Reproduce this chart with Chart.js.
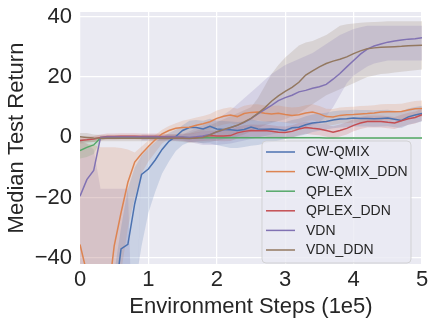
<!DOCTYPE html>
<html>
<head>
<meta charset="utf-8">
<script src="https://cdn.jsdelivr.net/npm/chart.js@4.4.1/dist/chart.umd.min.js"></script>
<style>
html,body{margin:0;padding:0;background:#ffffff;}
#wrap{width:428px;height:318px;}
</style>
</head>
<body>
<div id="wrap"><canvas id="c" width="428" height="318"></canvas></div>
<script>
// ---- data (x in units of 1e5 environment steps) ----
const steps = [0,0.1,0.2,0.3,0.4,0.5,0.6,0.7,0.8,0.9,1,1.1,1.2,1.3,1.4,1.5,1.6,1.7,1.8,1.9,2,2.1,2.2,2.3,2.4,2.5,2.6,2.7,2.8,2.9,3,3.1,3.2,3.3,3.4,3.5,3.6,3.7,3.8,3.9,4,4.1,4.2,4.3,4.4,4.5,4.6,4.7,4.8,4.9,5];
const seriesNames = ["CW-QMIX","CW-QMIX_DDN","QPLEX","QPLEX_DDN","VDN","VDN_DDN"];
const xTicks = [0,1,2,3,4,5];
const yTicks = [-40,-20,0,20,40];

const cwQmix = [-70,-70,-68,-65,-62,-55,-37,-35.5,-22,-12.3,-10.5,-7.5,-4,-1.3,0.3,2.3,3.3,3.3,2.8,3.7,2.8,2.6,2.5,2.3,2.6,3.4,2.8,2.7,2.8,2.6,2.3,3.2,3.4,4.2,4.8,5.0,5.3,5.8,6.1,6.2,6.4,6.3,6.3,6.2,6.3,6.4,6.0,5.6,6.8,7.4,7.9];
const cwQmixLo = [-90,-90,-90,-90,-90,-90,-90,-90,-50,-36,-25,-18,-12,-8,-4.5,-2.5,-1.5,-1.5,-2,-2,-2.5,-3,-3.5,-3.5,-3.2,-2.8,-2.5,-2,-1.5,-1,-0.5,0,0.5,1,1.8,2.2,2.6,3,3.3,3.4,3.6,3.6,3.6,3.5,3.6,3.7,3.4,3.1,4.2,4.8,5.3];
const cwQmixHi = [-60,-60,-60,-60,-60,-45,-30,-17,-10,-6,-3.5,-1.5,0,1.5,2.5,4,5.5,5.8,5.5,6.2,5.5,5.4,5.3,5.1,5.3,6,5.4,5.3,5.4,5.2,5,5.8,6.2,7,7.6,7.9,8.2,8.7,8.9,9,9.2,9.1,9.1,9,9.1,9.2,8.8,8.5,9.6,10.1,10.5];

const cwQmixDdn = [-35.5,-45,-60,-65,-55,-36,-25,-14.9,-8.2,-5.4,-3,-0.8,1.2,2.3,3.0,3.3,3.4,4.0,4.5,5.2,6.3,7.0,7.4,6.9,7.9,8.3,8.4,8.0,7.8,8.0,7.6,7.3,7.5,8.1,8.4,7.8,6.9,6.8,7.3,7.5,7.6,7.8,7.9,8.1,8.4,8.5,8.5,8.6,9.1,9.5,9.6];
const cwQmixDdnLo = [-90,-90,-90,-90,-90,-90,-45,-30,-20,-12,-8,-5,-2,-0.5,0.5,1,1,1.5,2,2.6,3.6,4.3,4.7,4.2,5.2,5.6,5.7,5.3,5.1,5.3,4.9,4.6,4.8,5.4,5.7,5.1,4.2,4.1,4.6,4.8,4.9,5.1,5.2,5.4,5.7,5.8,5.8,5.9,6.4,6.8,6.9];
const cwQmixDdnHi = [-1.5,-2,-2.5,-3.3,-3.3,-3.3,-3.5,-4,-5,-3,-1,0.8,2.5,3.8,4.7,5.5,6,6.6,7.1,7.8,8.9,9.6,10,9.5,10.5,10.9,11,10.6,10.4,10.6,10.2,9.9,10.1,10.7,11,10.4,9.5,9.4,9.9,10.1,10.2,10.4,10.5,10.7,11,11.1,11.1,11.2,11.7,12.1,12.2];

const qplex = [-4.4,-3.3,-2.5,-0.2,0,0,0,0,0,0,0,0,0,0,0,0,-0.1,-0.1,-0.1,-0.1,-0.1,-0.1,-0.1,-0.1,-0.1,-0.1,-0.1,-0.1,-0.1,-0.1,-0.1,-0.1,-0.1,-0.1,-0.1,-0.1,-0.2,-0.2,-0.2,-0.2,-0.2,-0.2,-0.2,-0.2,-0.2,-0.2,-0.2,-0.2,-0.2,-0.2,-0.2];
const qplexLo = [-7,-6.5,-5.5,-1,-0.3,-0.3,-0.3,-0.3,-0.3,-0.3,-0.3,-0.3,-0.3,-0.3,-0.3,-0.3,-0.4,-0.4,-0.4,-0.4,-0.4,-0.4,-0.4,-0.4,-0.4,-0.4,-0.4,-0.4,-0.4,-0.4,-0.4,-0.4,-0.4,-0.4,-0.4,-0.4,-0.5,-0.5,-0.5,-0.5,-0.5,-0.5,-0.5,-0.5,-0.5,-0.5,-0.5,-0.5,-0.5,-0.5,-0.5];
const qplexHi = [-0.5,-0.5,-0.5,0.2,0.3,0.3,0.3,0.3,0.3,0.3,0.3,0.3,0.3,0.3,0.3,0.3,0.2,0.2,0.2,0.2,0.2,0.2,0.2,0.2,0.2,0.2,0.2,0.2,0.2,0.2,0.2,0.2,0.2,0.2,0.2,0.2,0.1,0.1,0.1,0.1,0.1,0.1,0.1,0.1,0.1,0.1,0.1,0.1,0.1,0.1,0.1];

const qplexDdn = [-1,-0.8,-0.5,0,0.3,0.3,0.4,0.4,0.4,0.3,0.3,0.3,0.2,0.1,0,0,-0.3,0,0.3,0.6,0.5,0.5,0.6,1.5,2.0,2.3,2.2,2.3,2.0,1.7,1.6,2.0,2.8,3.3,3.0,2.8,2.3,1.7,2.3,3.0,4.0,4.8,5.3,5.3,5.3,5.0,4.8,5.5,6.2,6.6,7.5];
const qplexDdnLo = [-2,-1.8,-1.5,-1,-0.7,-0.7,-0.6,-0.6,-0.6,-0.7,-0.7,-0.7,-0.8,-0.9,-1,-1.2,-1.6,-1.4,-1.2,-1,-1.2,-1.3,-1.2,-0.4,0,0.3,0.2,0.3,0,-0.3,-0.4,0,0.7,1.2,0.9,0.7,0.2,-0.4,0.3,1,2,2.8,3.3,3.3,3.3,3,2.8,3.5,4.2,4.6,5.5];
const qplexDdnHi = [0,0.2,0.5,1,1.3,1.3,1.4,1.4,1.4,1.3,1.3,1.3,1.2,1.1,1.1,1.3,1.2,1.6,2,2.3,2.3,2.4,2.6,3.5,4,4.3,4.2,4.3,4,3.7,3.6,4,4.8,5.3,5,4.8,4.3,3.7,4.3,5,6,6.8,7.3,7.3,7.3,7,6.8,7.5,8.2,8.6,9.5];

const vdn = [-19.5,-14,-11,0,0.1,0.1,0.1,0.1,0.1,0.1,0.1,0.1,0.1,0.1,0.1,0.1,0,0.2,0.5,1,1.8,2.5,3.2,4.0,5.0,6.2,7.8,9.2,10.6,12.2,13.2,14.0,15.1,15.6,16.3,16.8,17.6,19.3,21.2,23.4,25.5,27.6,29.3,30.3,31.0,31.6,32.0,32.3,32.6,32.7,33.1];
const vdnLo = [-90,-90,-90,-90,-90,-90,-90,-90,-90,-1,-1,-1,-1,-1,-1,-1,-1.5,-2,-2.5,-2.5,-2.5,-2.3,-2,-1.5,-1,-0.5,0,0.5,1,1.5,2,2.5,3,3.5,4,5,7,10,14,18,20.5,22,23.5,24.5,25,25.5,25.5,25.5,25.5,25.5,25.5];
const vdnHi = [-1,-2,-4,-17,-17,-17,-17,-17,-90,1,1,1,1,1,1,1,2,3,4,5,6,7.5,9,11,13,15,17,19,21,22.5,24,25,26,27,28,29.5,31,32.5,34,35,36,36.5,37,37,37,37,37,37,37,37,37];

const vdnDdn = [0.2,0,-0.2,-0.3,-0.3,-0.3,-0.3,-0.3,-0.3,-0.3,-0.3,-0.3,-0.3,-0.3,-0.3,-0.3,-0.4,-0.2,0,0.8,1.9,2.6,3.3,4.0,5.1,6.3,8.0,9.8,12.0,13.8,15.3,16.6,18.3,20.7,22.1,23.4,24.5,25.3,25.9,26.7,27.8,28.7,29.4,29.7,29.9,30.0,30.1,30.2,30.4,30.5,30.6];
const vdnDdnLo = [-1.5,-1.5,-1.5,-1.3,-1.3,-1.3,-1.3,-1.3,-1.3,-1.3,-1.3,-1.3,-1.3,-1.3,-1.3,-1.5,-1.8,-1.8,-1.8,-1.5,-1,-0.6,-0.2,0.3,1,2,3,4,4.8,5.4,6,7,8,9.5,11,12.5,14,15,16,17,18,19,20,20.5,21,21.2,21.5,21.8,22,22.3,22.5];
const vdnDdnHi = [1.5,1.5,1,0.8,0.8,0.8,0.8,0.8,0.8,0.8,0.8,0.8,0.8,0.8,0.8,1,1.5,2.2,3,4,5,6,7,8,9,10,13,17,21,24,26.5,28.5,30.5,31.5,32,33,34,35.5,37,37.5,37.8,38,38.2,38.3,38.4,38.5,38.5,38.5,38.5,38.5,38.5];

const colors = ["#4C72B0","#DD8452","#55A868","#C44E52","#8172B3","#937860"];
const mains = [cwQmix,cwQmixDdn,qplex,qplexDdn,vdn,vdnDdn];
const lows = [cwQmixLo,cwQmixDdnLo,qplexLo,qplexDdnLo,vdnLo,vdnDdnLo];
const highs = [cwQmixHi,cwQmixDdnHi,qplexHi,qplexDdnHi,vdnHi,vdnDdnHi];

function pts(arr){ return arr.map((v,i)=>({x:steps[i],y:v})); }
function rgba(hex,a){const n=parseInt(hex.slice(1),16);return `rgba(${n>>16&255},${n>>8&255},${n&255},${a})`;}

const datasets = [];
seriesNames.forEach((name,i)=>{
  const hiIndex = datasets.length + 1;
  datasets.push({label:'_lo', band:true, data:pts(lows[i]), borderWidth:0, pointRadius:0,
    backgroundColor:rgba(colors[i],0.2), fill:{target:hiIndex}, order:100+i, tension:0});
  datasets.push({label:'_hi', band:true, data:pts(highs[i]), borderWidth:0, pointRadius:0,
    fill:false, order:100+i, tension:0});
});
seriesNames.forEach((name,i)=>{
  datasets.push({label:name, data:pts(mains[i]), borderColor:colors[i], backgroundColor:colors[i],
    borderWidth:1.5, pointRadius:0, fill:false, order:10-i, tension:0});
});

const TXT = '#262626';
const FONT = "'Liberation Sans', Arial, sans-serif";

const bgPlugin = {
  id:'bg',
  beforeDraw(chart){
    const {ctx, chartArea:a} = chart;
    ctx.save(); ctx.fillStyle='#EAEAF2';
    ctx.fillRect(a.left,a.top,a.right-a.left,a.bottom-a.top); ctx.restore();
  }
};

const legendPlugin = {
  id:'boxLegend',
  afterDraw(chart){
    const ctx = chart.ctx;
    const x0=262, y0=141, w=149, h=122, r=4;
    ctx.save();
    ctx.beginPath();
    ctx.moveTo(x0+r,y0); ctx.lineTo(x0+w-r,y0); ctx.arcTo(x0+w,y0,x0+w,y0+r,r);
    ctx.lineTo(x0+w,y0+h-r); ctx.arcTo(x0+w,y0+h,x0+w-r,y0+h,r);
    ctx.lineTo(x0+r,y0+h); ctx.arcTo(x0,y0+h,x0,y0+h-r,r);
    ctx.lineTo(x0,y0+r); ctx.arcTo(x0,y0,x0+r,y0,r); ctx.closePath();
    ctx.fillStyle='rgba(234,234,242,0.8)'; ctx.fill();
    ctx.strokeStyle='rgba(204,204,204,0.8)'; ctx.lineWidth=1; ctx.stroke();
    const items = chart.data.datasets.filter(d=>!d.band);
    ctx.font = `14px ${FONT}`; ctx.textBaseline='middle'; ctx.textAlign='left';
    items.forEach((d,k)=>{
      const yy = 152 + k*19.6;
      ctx.strokeStyle=d.borderColor; ctx.lineWidth=1.5;
      ctx.beginPath(); ctx.moveTo(266,yy); ctx.lineTo(295,yy); ctx.stroke();
      ctx.fillStyle=TXT; ctx.fillText(d.label,306,yy+0.5);
    });
    ctx.restore();
  }
};

new Chart(document.getElementById('c'), {
  type:'line',
  data:{datasets},
  options:{
    responsive:false, animation:false, devicePixelRatio:1,
    layout:{padding:{top:12,right:6,left:0,bottom:0}},
    plugins:{legend:{display:false}, tooltip:{enabled:false}, filler:{drawTime:'beforeDatasetsDraw', propagate:false}},
    scales:{
      x:{type:'linear', min:0, max:5,
        afterFit(s){ s.height = 54; s.paddingLeft = 0; s.paddingRight = 0; },
        afterBuildTicks(s){ s.ticks = xTicks.map(v=>({value:v})); },
        grid:{color:'#ffffff', lineWidth:1.25, drawTicks:false},
        border:{display:false},
        ticks:{color:TXT, font:{family:FONT,size:22}, padding:3, maxRotation:0},
        title:{display:true, text:'Environment Steps (1e5)', color:TXT, font:{family:FONT,size:22,lineHeight:1}, padding:{top:0,bottom:0}}
      },
      y:{type:'linear', min:-42, max:41.6,
        afterFit(s){ s.width = 80; s.paddingTop = 0; s.paddingBottom = 0; },
        afterBuildTicks(s){ s.ticks = yTicks.map(v=>({value:v})); },
        grid:{color:'#ffffff', lineWidth:1.25, drawTicks:false},
        border:{display:false},
        ticks:{color:TXT, font:{family:FONT,size:22}, padding:8, callback:(v)=> (v<0? '\u2212'+Math.abs(v) : String(v))},
        title:{display:true, text:'Median Test Return', color:TXT, font:{family:FONT,size:22,lineHeight:1}, padding:{top:6,bottom:0}}
      }
    }
  },
  plugins:[bgPlugin, legendPlugin]
});
</script>
</body>
</html>
